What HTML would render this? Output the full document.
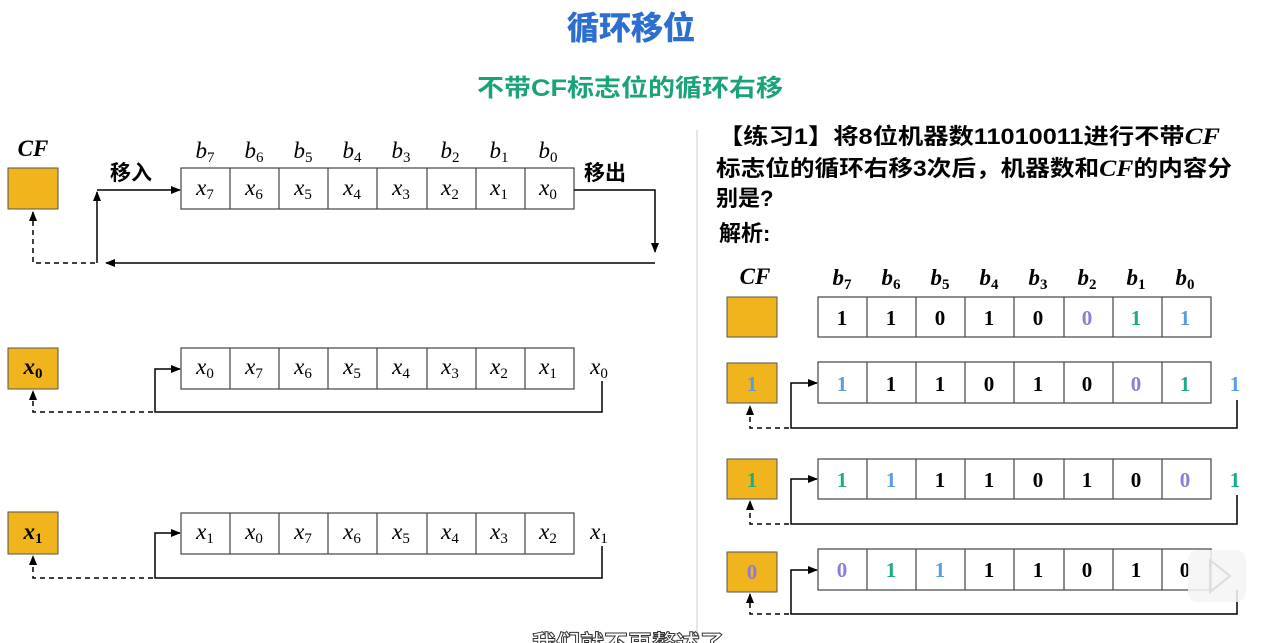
<!DOCTYPE html>
<html><head><meta charset="utf-8"><style>
body{margin:0;background:#fff;width:1271px;height:643px;overflow:hidden}
svg{display:block}
.cn{font-family:"Liberation Sans","Noto Sans CJK SC",sans-serif;font-weight:bold}
.m{font-family:"Liberation Serif",serif;font-style:italic;font-size:23px}
.s{font-size:15px;font-style:normal}
.d{font-family:"Liberation Serif",serif;font-weight:bold;font-size:21px}
</style></head><body>
<svg width="1271" height="643" viewBox="0 0 1271 643" xmlns="http://www.w3.org/2000/svg">
<defs><marker id="a" markerWidth="10" markerHeight="8" refX="9" refY="4" orient="auto" markerUnits="userSpaceOnUse"><path d="M0,0L10,4L0,8z" fill="#000"/></marker></defs>
<text x="631" y="39" text-anchor="middle" class="cn" font-size="32" fill="#2d6fcf" stroke="#2d6fcf" stroke-width="0.6">循环移位</text>
<text x="630" y="96" text-anchor="middle" class="cn" font-size="24" fill="#1aa37a" textLength="306" lengthAdjust="spacingAndGlyphs">不带CF标志位的循环右移</text>
<line x1="697" y1="130" x2="697" y2="643" stroke="#ddd" stroke-width="1.5"/>

<!-- LEFT top -->
<text x="33" y="156" text-anchor="middle" class="m" font-weight="bold" font-size="20">CF</text>
<rect x="8" y="168" width="50" height="41" fill="#f0b41c" stroke="#555"/>
<g class="m" text-anchor="middle">
<text x="205" y="158">b<tspan class="s" dy="4">7</tspan></text>
<text x="254" y="158">b<tspan class="s" dy="4">6</tspan></text>
<text x="303" y="158">b<tspan class="s" dy="4">5</tspan></text>
<text x="352" y="158">b<tspan class="s" dy="4">4</tspan></text>
<text x="401" y="158">b<tspan class="s" dy="4">3</tspan></text>
<text x="450" y="158">b<tspan class="s" dy="4">2</tspan></text>
<text x="499" y="158">b<tspan class="s" dy="4">1</tspan></text>
<text x="548" y="158">b<tspan class="s" dy="4">0</tspan></text>
</g>
<text x="110" y="180" class="cn" font-size="21">移入</text>
<text x="584" y="180" class="cn" font-size="21">移出</text>
<rect x="181" y="168" width="393" height="41" fill="#fff" stroke="#444" stroke-width="1.2"/>
<path d="M230,168v41M279,168v41M328,168v41M377,168v41M427,168v41M476,168v41M525,168v41" stroke="#444" stroke-width="1.2"/>
<g class="m" text-anchor="middle">
<text x="205" y="195">x<tspan class="s" dy="4">7</tspan></text>
<text x="254" y="195">x<tspan class="s" dy="4">6</tspan></text>
<text x="303" y="195">x<tspan class="s" dy="4">5</tspan></text>
<text x="352" y="195">x<tspan class="s" dy="4">4</tspan></text>
<text x="401" y="195">x<tspan class="s" dy="4">3</tspan></text>
<text x="450" y="195">x<tspan class="s" dy="4">2</tspan></text>
<text x="499" y="195">x<tspan class="s" dy="4">1</tspan></text>
<text x="548" y="195">x<tspan class="s" dy="4">0</tspan></text>
</g>
<g fill="none" stroke="#000" stroke-width="1.5">
<path d="M97,190H180" marker-end="url(#a)"/>
<path d="M574,190H655V252" marker-end="url(#a)"/>
<path d="M655,263H106" marker-end="url(#a)"/>
<path d="M97,263V192" marker-end="url(#a)"/>
<path d="M95,263H33V212" stroke-dasharray="5,4" marker-end="url(#a)"/>
</g>

<!-- LEFT row 2 -->
<rect x="8" y="348" width="50" height="41" fill="#f0b41c" stroke="#555"/>
<text x="33" y="374" text-anchor="middle" class="m" font-weight="bold">x<tspan class="s" dy="4">0</tspan></text>
<rect x="181" y="348" width="393" height="41" fill="#fff" stroke="#444" stroke-width="1.2"/>
<path d="M230,348v41M279,348v41M328,348v41M377,348v41M427,348v41M476,348v41M525,348v41" stroke="#444" stroke-width="1.2"/>
<g class="m" text-anchor="middle">
<text x="205" y="374">x<tspan class="s" dy="4">0</tspan></text>
<text x="254" y="374">x<tspan class="s" dy="4">7</tspan></text>
<text x="303" y="374">x<tspan class="s" dy="4">6</tspan></text>
<text x="352" y="374">x<tspan class="s" dy="4">5</tspan></text>
<text x="401" y="374">x<tspan class="s" dy="4">4</tspan></text>
<text x="450" y="374">x<tspan class="s" dy="4">3</tspan></text>
<text x="499" y="374">x<tspan class="s" dy="4">2</tspan></text>
<text x="548" y="374">x<tspan class="s" dy="4">1</tspan></text>
<text x="599" y="374">x<tspan class="s" dy="4">0</tspan></text>
</g>
<g fill="none" stroke="#000" stroke-width="1.5">
<path d="M602,381V412H155V369H180" marker-end="url(#a)"/>
<path d="M153,412H33V391" stroke-dasharray="5,4" marker-end="url(#a)"/>
</g>

<!-- LEFT row 3 -->
<rect x="8" y="512" width="50" height="42" fill="#f0b41c" stroke="#555"/>
<text x="33" y="539" text-anchor="middle" class="m" font-weight="bold">x<tspan class="s" dy="4">1</tspan></text>
<rect x="181" y="513" width="393" height="41" fill="#fff" stroke="#444" stroke-width="1.2"/>
<path d="M230,513v41M279,513v41M328,513v41M377,513v41M427,513v41M476,513v41M525,513v41" stroke="#444" stroke-width="1.2"/>
<g class="m" text-anchor="middle">
<text x="205" y="539">x<tspan class="s" dy="4">1</tspan></text>
<text x="254" y="539">x<tspan class="s" dy="4">0</tspan></text>
<text x="303" y="539">x<tspan class="s" dy="4">7</tspan></text>
<text x="352" y="539">x<tspan class="s" dy="4">6</tspan></text>
<text x="401" y="539">x<tspan class="s" dy="4">5</tspan></text>
<text x="450" y="539">x<tspan class="s" dy="4">4</tspan></text>
<text x="499" y="539">x<tspan class="s" dy="4">3</tspan></text>
<text x="548" y="539">x<tspan class="s" dy="4">2</tspan></text>
<text x="599" y="539">x<tspan class="s" dy="4">1</tspan></text>
</g>
<g fill="none" stroke="#000" stroke-width="1.5">
<path d="M602,546V578H155V533H180" marker-end="url(#a)"/>
<path d="M153,578H33V556" stroke-dasharray="5,4" marker-end="url(#a)"/>
</g>

<!-- RIGHT text -->
<text x="718" y="144" class="cn" font-size="22" textLength="502" lengthAdjust="spacingAndGlyphs">【练习1】将8位机器数11010011进行不带<tspan class="m" font-weight="bold" font-size="22">CF</tspan></text>
<text x="716" y="176" class="cn" font-size="22" textLength="516" lengthAdjust="spacingAndGlyphs">标志位的循环右移3次后，机器数和<tspan class="m" font-weight="bold" font-size="22">CF</tspan>的内容分</text>
<text x="716" y="206" class="cn" font-size="22">别是?</text>
<text x="719" y="241" class="cn" font-size="22">解析:</text>

<text x="755" y="284" text-anchor="middle" class="m" font-weight="bold" font-size="20">CF</text>
<g class="m" text-anchor="middle" font-weight="bold">
<text x="842" y="285">b<tspan class="s" dy="4">7</tspan></text>
<text x="891" y="285">b<tspan class="s" dy="4">6</tspan></text>
<text x="940" y="285">b<tspan class="s" dy="4">5</tspan></text>
<text x="989" y="285">b<tspan class="s" dy="4">4</tspan></text>
<text x="1038" y="285">b<tspan class="s" dy="4">3</tspan></text>
<text x="1087" y="285">b<tspan class="s" dy="4">2</tspan></text>
<text x="1136" y="285">b<tspan class="s" dy="4">1</tspan></text>
<text x="1185" y="285">b<tspan class="s" dy="4">0</tspan></text>
</g>

<g fill="#f0b41c" stroke="#555">
<rect x="727" y="297" width="50" height="40"/>
<rect x="727" y="363" width="50" height="40"/>
<rect x="727" y="459" width="50" height="40"/>
<rect x="727" y="552" width="50" height="40"/>
</g>
<g fill="#fff" stroke="#444" stroke-width="1.2">
<rect x="818" y="297" width="393" height="40"/>
<rect x="818" y="362" width="393" height="41"/>
<rect x="818" y="459" width="393" height="40"/>
<rect x="818" y="549" width="393" height="41"/>
</g>
<g stroke="#444" stroke-width="1.2">
<path d="M867,297v40M916,297v40M965,297v40M1014,297v40M1064,297v40M1113,297v40M1162,297v40"/>
<path d="M867,362v41M916,362v41M965,362v41M1014,362v41M1064,362v41M1113,362v41M1162,362v41"/>
<path d="M867,459v40M916,459v40M965,459v40M1014,459v40M1064,459v40M1113,459v40M1162,459v40"/>
<path d="M867,549v41M916,549v41M965,549v41M1014,549v41M1064,549v41M1113,549v41M1162,549v41"/>
</g>
<g class="d" text-anchor="middle">
<text x="842" y="325">1</text><text x="891" y="325">1</text><text x="940" y="325">0</text><text x="989" y="325">1</text><text x="1038" y="325">0</text><text x="1087" y="325" fill="#8e7cd6">0</text><text x="1136" y="325" fill="#1aab8a">1</text><text x="1185" y="325" fill="#5b9bdf">1</text>

<text x="752" y="391" fill="#5b9bdf">1</text>
<text x="842" y="391" fill="#5b9bdf">1</text><text x="891" y="391">1</text><text x="940" y="391">1</text><text x="989" y="391">0</text><text x="1038" y="391">1</text><text x="1087" y="391">0</text><text x="1136" y="391" fill="#8e7cd6">0</text><text x="1185" y="391" fill="#1aab8a">1</text><text x="1235" y="391" fill="#5b9bdf">1</text>

<text x="752" y="487" fill="#1aab8a">1</text>
<text x="842" y="487" fill="#1aab8a">1</text><text x="891" y="487" fill="#5b9bdf">1</text><text x="940" y="487">1</text><text x="989" y="487">1</text><text x="1038" y="487">0</text><text x="1087" y="487">1</text><text x="1136" y="487">0</text><text x="1185" y="487" fill="#8e7cd6">0</text><text x="1235" y="487" fill="#1aab8a">1</text>

<text x="752" y="579" fill="#8e7cd6">0</text>
<text x="842" y="577" fill="#8e7cd6">0</text><text x="891" y="577" fill="#1aab8a">1</text><text x="940" y="577" fill="#5b9bdf">1</text><text x="989" y="577">1</text><text x="1038" y="577">1</text><text x="1087" y="577">0</text><text x="1136" y="577">1</text><text x="1185" y="577">0</text>
</g>
<g fill="none" stroke="#000" stroke-width="1.5">
<path d="M1237,400V428H791V383H817" marker-end="url(#a)"/>
<path d="M789,428H750V406" stroke-dasharray="5,4" marker-end="url(#a)"/>
<path d="M1237,495V524H791V479H817" marker-end="url(#a)"/>
<path d="M789,524H750V501" stroke-dasharray="5,4" marker-end="url(#a)"/>
<path d="M1237,590V614H791V570H817" marker-end="url(#a)"/>
<path d="M789,614H750V594" stroke-dasharray="5,4" marker-end="url(#a)"/>
</g>
<rect x="1188" y="550" width="58" height="52" rx="10" fill="#f4f4f4" fill-opacity="0.85"/>
<path d="M1210,560L1230,576L1210,592z" fill="none" stroke="#ddd" stroke-width="2"/>
<text x="628" y="652" text-anchor="middle" class="cn" font-size="24" fill="#fff" stroke="#333" stroke-width="1">我们就不再赘述了</text>
</svg>
</body></html>
